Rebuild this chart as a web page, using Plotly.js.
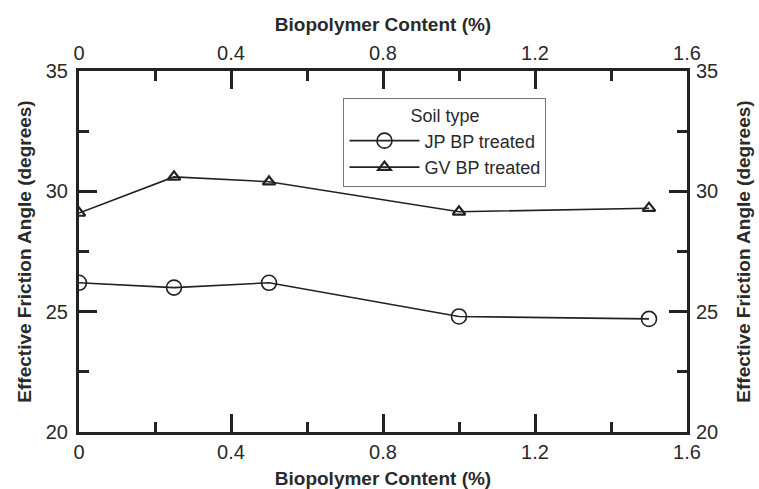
<!DOCTYPE html>
<html><head><meta charset="utf-8">
<script src="https://cdn.plot.ly/plotly-3.0.1.min.js"></script>
<style>html,body{margin:0;padding:0;background:#fff}#chart{width:759px;height:489px}</style>
</head><body><div id="chart"></div>
<script>
const content = [0, 0.25, 0.5, 1.0, 1.5];
const jpAngle = [26.2, 26.0, 26.2, 24.8, 24.7];
const gvAngle = [29.1, 30.6, 30.4, 29.15, 29.3];
const xTicks = [0, 0.4, 0.8, 1.2, 1.6];
const xTickText = ['0', '0.4', '0.8', '1.2', '1.6'];
const yTicks = [20, 25, 30, 35];

const FONT = 'Liberation Sans, Arial, sans-serif';
const txt = '#2a2a2a';

const traces = [
  {x: content, y: jpAngle, name: 'JP BP treated', mode: 'lines+markers', type: 'scatter',
   line: {color: '#222', width: 1.6},
   marker: {symbol: 'circle-open', size: 15, color: '#222', line: {width: 1.6}}},
  {x: content, y: gvAngle, name: 'GV BP treated', mode: 'lines+markers', type: 'scatter',
   line: {color: '#222', width: 1.6},
   marker: {symbol: 'triangle-up-open', size: 11, color: '#222', line: {width: 2.2}}},
  {x: [content[0]], y: [yTicks[0]], xaxis: 'x2', yaxis: 'y2', mode: 'markers', showlegend: false,
   hoverinfo: 'skip', marker: {opacity: 0}}
];

const axBase = {
  showgrid: false, zeroline: false, showline: true, linecolor: '#222', linewidth: 3,
  ticks: 'inside', ticklen: 18, tickwidth: 3, tickcolor: '#222',
  tickfont: {family: FONT, size: 20, color: txt}
};
const minorX = {dtick: 0.2, ticks: 'inside', ticklen: 10, tickwidth: 3, tickcolor: '#222', showgrid: false};
const minorY = {dtick: 2.5, ticks: 'inside', ticklen: 10, tickwidth: 3, tickcolor: '#222', showgrid: false};
const titleFont = {family: FONT, size: 19, color: txt, weight: 'bold'};

const layout = {
  width: 759, height: 489,
  margin: {l: 79, r: 72, t: 71, b: 57},
  paper_bgcolor: '#fff', plot_bgcolor: '#fff',
  showlegend: true,
  legend: {
    x: 0.435, y: 0.925, xanchor: 'left', yanchor: 'top',
    bgcolor: '#fff', bordercolor: '#777', borderwidth: 1,
    font: {family: FONT, size: 18, color: txt},
    title: {text: 'Soil type', side: 'top center', font: {family: FONT, size: 18, color: txt}},
    tracegroupgap: 0, itemwidth: 70
  },
  xaxis: Object.assign({}, axBase, {
    range: [0, 1.6], tickvals: xTicks, ticktext: xTickText, minor: minorX,
    title: {text: 'Biopolymer Content (%)', font: titleFont, standoff: 10}
  }),
  xaxis2: Object.assign({}, axBase, {
    range: [0, 1.6], tickvals: xTicks, ticktext: xTickText, overlaying: 'x', side: 'top', anchor: 'y2',
    minor: minorX,
    title: {text: 'Biopolymer Content (%)', font: titleFont, standoff: 6}
  }),
  yaxis: Object.assign({}, axBase, {
    range: [20, 35], tickvals: yTicks, minor: minorY, ticklabelstandoff: 4,
    title: {text: 'Effective Friction Angle (degrees)', font: titleFont, standoff: 10}
  }),
  yaxis2: Object.assign({}, axBase, {
    range: [20, 35], tickvals: yTicks, overlaying: 'y', side: 'right', anchor: 'x2', minor: minorY,
    ticklabelstandoff: 2,
    title: {text: 'Effective Friction Angle (degrees)', font: titleFont, standoff: 20}
  })
};

Plotly.newPlot('chart', traces, layout, {displayModeBar: false, staticPlot: true});
</script></body></html>
